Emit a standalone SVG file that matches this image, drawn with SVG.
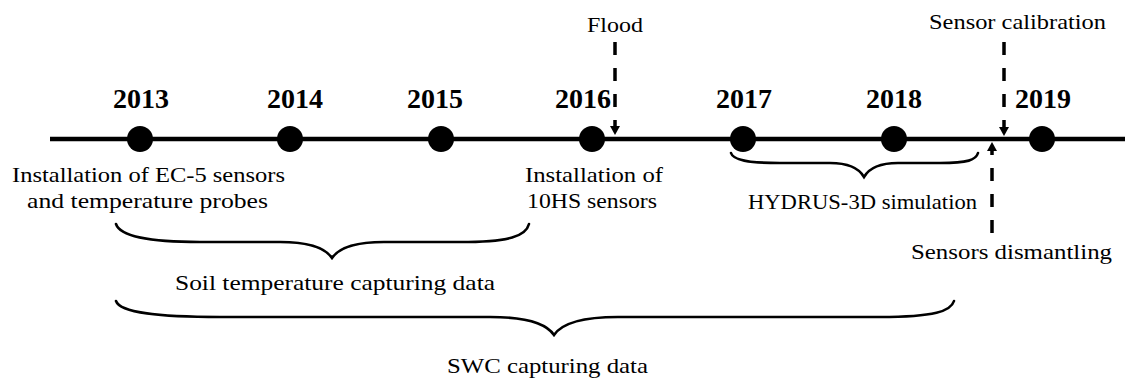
<svg xmlns="http://www.w3.org/2000/svg" width="1125" height="378" viewBox="0 0 1125 378" font-family="'Liberation Serif', 'DejaVu Serif', 'Times New Roman', serif">
<style>
text{font-family:'Liberation Serif','DejaVu Serif','Times New Roman',serif}
.t{font-size:22px;fill:#000}
.y{font-size:28px;font-weight:bold;fill:#000;text-anchor:middle}
.brace{fill:none;stroke:#000;stroke-width:2.6;stroke-linecap:round}
.dash{fill:none;stroke:#000;stroke-width:3.5;stroke-dasharray:13 13}
.head{fill:#000}
</style>
<g id="timeline">
<line x1="50" y1="139" x2="1125" y2="139" stroke="#000" stroke-width="4.5"/>
</g>
<g id="y2013"><circle cx="140" cy="139" r="13"/><text class="y" x="141" y="108">2013</text></g>
<g id="y2014"><circle cx="290" cy="139" r="13"/><text class="y" x="295" y="108">2014</text></g>
<g id="y2015"><circle cx="441" cy="139" r="13"/><text class="y" x="435" y="108">2015</text></g>
<g id="y2016"><circle cx="592" cy="139" r="13"/><text class="y" x="583" y="108">2016</text></g>
<g id="y2017"><circle cx="743" cy="139" r="13"/><text class="y" x="744" y="108">2017</text></g>
<g id="y2018"><circle cx="894" cy="139" r="13"/><text class="y" x="894" y="108">2018</text></g>
<g id="y2019"><circle cx="1042" cy="139" r="13"/><text class="y" x="1043" y="108">2019</text></g>
<g id="connectors">
<line class="dash" x1="615" y1="42" x2="615" y2="126"/>
<path class="head" d="M610,126 L620,126 L615,135 Z"/>
<line class="dash" x1="1004" y1="42" x2="1004" y2="127"/>
<path class="head" d="M999,127 L1009,127 L1004,136 Z"/>
<line class="dash" x1="992" y1="233" x2="992" y2="151"/>
<path class="head" d="M987,151 L997,151 L992,142 Z"/>
</g>
<g id="flood"><text class="t" x="587" y="32" textLength="56" lengthAdjust="spacingAndGlyphs">Flood</text></g>
<g id="calibration"><text class="t" x="929" y="29" textLength="177" lengthAdjust="spacingAndGlyphs">Sensor calibration</text></g>
<g id="dismantling"><text class="t" x="911" y="259" textLength="201" lengthAdjust="spacingAndGlyphs">Sensors dismantling</text></g>
<g id="install-ec5">
<text class="t" x="12" y="182" textLength="273" lengthAdjust="spacingAndGlyphs">Installation of EC-5 sensors</text>
<text class="t" x="27" y="208" textLength="241" lengthAdjust="spacingAndGlyphs">and temperature probes</text>
</g>
<g id="install-10hs">
<text class="t" x="525" y="182" textLength="138" lengthAdjust="spacingAndGlyphs">Installation of</text>
<text class="t" x="527" y="208" textLength="130" lengthAdjust="spacingAndGlyphs">10HS sensors</text>
</g>
<g id="hydrus">
<path class="brace" d="M731,153 C733,160 748,163 780,163 L830,163 C850,163 860,170 864,177 C868,170 878,163 898,163 L940,163 C968,163 976,160 978,153"/>
<text class="t" x="748" y="209" textLength="229" lengthAdjust="spacingAndGlyphs">HYDRUS-3D simulation</text>
</g>
<g id="soil">
<path class="brace" d="M116,224 C120,236 150,242 200,242 L280,242 C312,242 326,249 332,258 C338,249 352,242 384,242 L460,242 C510,242 526,236 529,224"/>
<text class="t" x="175" y="290" textLength="320" lengthAdjust="spacingAndGlyphs">Soil temperature capturing data</text>
</g>
<g id="swc">
<path class="brace" d="M116,301 C120,313 160,317 220,317 L490,317 C532,317 548,326 554,335 C560,326 576,317 618,317 L880,317 C935,317 951,311 954,301"/>
<text class="t" x="447" y="373" textLength="201" lengthAdjust="spacingAndGlyphs">SWC capturing data</text>
</g>
</svg>
